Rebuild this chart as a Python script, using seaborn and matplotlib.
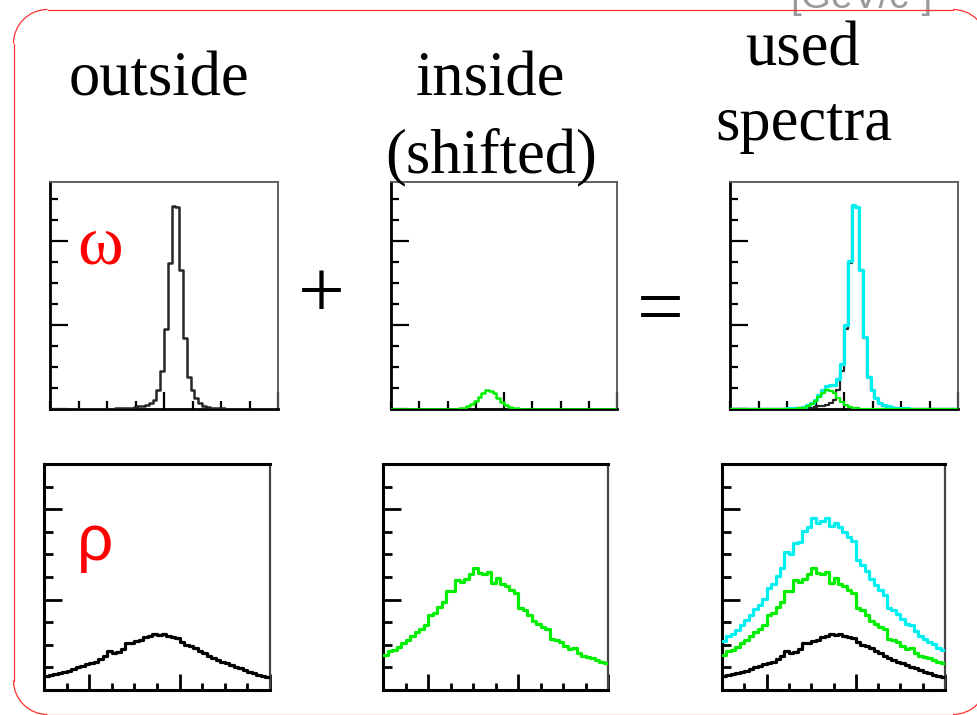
import numpy as np
import pandas as pd
import matplotlib
matplotlib.use("Agg")
import matplotlib.pyplot as plt
import seaborn as sns
from matplotlib.patches import Arc
from matplotlib.lines import Line2D
from matplotlib.transforms import IdentityTransform
from matplotlib.ticker import MultipleLocator, FixedLocator

# ---------------- data ----------------
title_lines = ["outside", "inside", "(shifted)", "used", "spectra"]
meson_labels = ["ω", "ρ"]
operators = ["+", "="]
unit_text = "[GeV/c²]"

# omega spectra: 60 bins over 0..8 (arbitrary mass units)
omega_outside = [0.01, 0.01, 0.01, 0.01, 0.01, 0.01, 0.01, 0.01, 0.01, 0.01,
                 0.01, 0.01, 0.01, 0.01, 0.01, 0.02, 0.02, 0.03, 0.03, 0.04,
                 0.05, 0.06, 0.08, 0.12, 0.15, 0.20, 0.28, 0.42, 0.90, 1.80,
                 3.80, 6.95, 9.65, 9.60, 6.60, 3.40, 1.50, 0.90, 0.50, 0.28,
                 0.16, 0.11, 0.07, 0.05, 0.04, 0.03, 0.02, 0.01, 0.01, 0.01,
                 0.01, 0.01, 0.01, 0.01, 0.01, 0.01, 0.01, 0.01, 0.01, 0.01]
omega_inside = [0.01, 0.01, 0.01, 0.01, 0.01, 0.01, 0.01, 0.01, 0.01, 0.01,
                0.01, 0.01, 0.01, 0.01, 0.01, 0.01, 0.01, 0.01, 0.03, 0.06,
                0.12, 0.22, 0.36, 0.55, 0.76, 0.90, 0.88, 0.74, 0.54, 0.34,
                0.19, 0.10, 0.05, 0.03, 0.01, 0.01, 0.01, 0.01, 0.01, 0.01,
                0.01, 0.01, 0.01, 0.01, 0.01, 0.01, 0.01, 0.01, 0.01, 0.01,
                0.01, 0.01, 0.01, 0.01, 0.01, 0.01, 0.01, 0.01, 0.01, 0.01]

# rho spectra: 50 bins over 0..10
rho_outside = [0.64, 0.68, 0.70, 0.76, 0.80, 0.86, 0.94, 1.00, 1.08, 1.16,
               1.20, 1.26, 1.36, 1.52, 1.74, 1.62, 1.66, 1.80, 2.10, 2.06,
               2.18, 2.22, 2.36, 2.40, 2.50, 2.42, 2.50, 2.38, 2.34, 2.28,
               2.12, 2.00, 1.96, 1.86, 1.74, 1.64, 1.52, 1.40, 1.34, 1.24,
               1.18, 1.10, 1.02, 0.96, 0.88, 0.80, 0.74, 0.68, 0.62, 0.58]
rho_inside = [1.55, 1.72, 1.78, 1.90, 2.08, 2.22, 2.40, 2.58, 2.70, 2.86,
              3.30, 3.42, 3.68, 3.90, 4.36, 4.40, 4.86, 4.76, 4.92, 5.14,
              5.42, 5.16, 5.14, 5.22, 4.74, 4.96, 4.70, 4.60, 4.44, 4.30,
              3.62, 3.52, 3.30, 3.04, 2.90, 2.80, 2.70, 2.24, 2.20, 2.12,
              1.94, 1.80, 1.86, 1.64, 1.50, 1.46, 1.40, 1.34, 1.26, 1.18]

# ---------------- style ----------------
sns.set_theme(style="ticks")
plt.rcParams["font.family"] = ["Liberation Serif", "DejaVu Serif"]

W, H = 977, 715
fig = plt.figure(figsize=(W / 100, H / 100), dpi=100)
fig.patch.set_facecolor("white")

BLACK = "#262626"
GREEN = "#00ee00"
CYAN = "#00f0f0"


def box(x0, y0, x1, y1):
    return [x0 / W, 1 - y1 / H, (x1 - x0) / W, (y1 - y0) / H]


def draw(ax, vals, xmax, color, lw, z=3):
    n = len(vals)
    width = xmax / n
    df = pd.DataFrame({"mass": (np.arange(n) + 0.5) * width,
                       "counts": np.asarray(vals, dtype=float)})
    sns.histplot(data=df, x="mass", weights="counts", bins=n,
                 binrange=(0, xmax), element="step", fill=False,
                 color=color, linewidth=lw, zorder=z, ax=ax)


def style(ax, xmax, ymax, xmajor, ymajor, top_row):
    ax.set_xlim(0, xmax)
    ax.set_ylim(0, ymax)
    ax.set_xlabel("")
    ax.set_ylabel("")
    ax.xaxis.set_major_locator(FixedLocator(xmajor))
    ax.xaxis.set_minor_locator(MultipleLocator(1))
    ax.yaxis.set_major_locator(FixedLocator(ymajor))
    ax.yaxis.set_minor_locator(MultipleLocator(1))
    ax.tick_params(which="both", direction="in", labelbottom=False,
                   labelleft=False, top=False, right=False, color="black")
    ax.set_facecolor("white")
    if top_row:
        ax.tick_params(which="both", width=1.6)
        ax.tick_params(axis="y", which="major", length=13)
        ax.tick_params(axis="y", which="minor", length=5.8)
        ax.tick_params(axis="x", which="major", length=12)
        ax.tick_params(axis="x", which="minor", length=5.5)
        for s in ["left", "bottom"]:
            ax.spines[s].set_color("black")
            ax.spines[s].set_linewidth(2.0)
        for s in ["top", "right"]:
            ax.spines[s].set_color("#555555")
            ax.spines[s].set_linewidth(1.3)
    else:
        ax.tick_params(which="both", width=2.0)
        ax.tick_params(axis="y", which="major", length=13)
        ax.tick_params(axis="y", which="minor", length=6.3)
        ax.tick_params(axis="x", which="major", length=11.5)
        ax.tick_params(axis="x", which="minor", length=5)
        for s in ["left", "bottom", "top"]:
            ax.spines[s].set_color("black")
            ax.spines[s].set_linewidth(2.2)
        ax.spines["right"].set_color("#444444")
        ax.spines["right"].set_linewidth(1.6)


omega_sum = list(np.asarray(omega_outside) + np.asarray(omega_inside))
rho_sum = list(np.asarray(rho_outside) + np.asarray(rho_inside))

top_boxes = [box(50, 182, 278, 409), box(391, 182, 617, 409), box(730, 182, 958, 409)]
bot_boxes = [box(44, 464, 270, 690), box(383, 464, 608, 690), box(722, 464, 945, 690)]

# top row (omega)
ax1 = fig.add_axes(top_boxes[0])
draw(ax1, omega_outside, 8, BLACK, 1.8)
style(ax1, 8, 10.8, [4, 8], [0, 4, 8], True)

ax2 = fig.add_axes(top_boxes[1])
draw(ax2, omega_inside, 8, GREEN, 1.8)
style(ax2, 8, 10.8, [4, 8], [0, 4, 8], True)

ax3 = fig.add_axes(top_boxes[2])
draw(ax3, omega_outside, 8, BLACK, 1.6)
draw(ax3, omega_sum, 8, CYAN, 2.3)
draw(ax3, omega_inside, 8, GREEN, 1.6)
style(ax3, 8, 10.8, [4, 8], [0, 4, 8], True)

# bottom row (rho)
ax4 = fig.add_axes(bot_boxes[0])
draw(ax4, rho_outside, 10, "black", 2.3)
style(ax4, 10, 10, [2, 6, 10], [0, 4, 8], False)

ax5 = fig.add_axes(bot_boxes[1])
draw(ax5, rho_inside, 10, GREEN, 2.3)
style(ax5, 10, 10, [2, 6, 10], [0, 4, 8], False)

ax6 = fig.add_axes(bot_boxes[2])
draw(ax6, rho_outside, 10, "black", 2.3)
draw(ax6, rho_inside, 10, GREEN, 2.3)
draw(ax6, rho_sum, 10, CYAN, 2.3)
style(ax6, 10, 10, [2, 6, 10], [0, 4, 8], False)

# ---------------- texts ----------------
def fx(px):
    return px / W


def fy(py):
    return 1 - py / H


title_pos = [(159, 95), (490, 95), (491, 172), (802, 66), (804, 140)]
for txt, (px, py) in zip(title_lines, title_pos):
    fig.text(fx(px), fy(py), txt, ha="center", va="baseline", fontsize=45,
             color="black", family=["Liberation Serif", "DejaVu Serif"])

fig.text(fx(100), fy(263), meson_labels[0], ha="center", va="baseline",
         fontsize=50, color="red", family=["Liberation Serif", "DejaVu Serif"])
fig.text(fx(95), fy(560), meson_labels[1], ha="center", va="baseline",
         fontsize=46, color="red", family=["Liberation Sans", "DejaVu Sans"])

fig.text(fx(321), fy(297), operators[0], ha="center", va="center",
         fontsize=60, color="black", family=["Liberation Serif", "DejaVu Serif"])
fig.text(fx(660), fy(314), operators[1], ha="center", va="center",
         fontsize=60, color="black", family=["Liberation Serif", "DejaVu Serif"])

fig.text(fx(790), fy(8), unit_text, ha="left", va="baseline", fontsize=28,
         color="#9a9a9a", family=["Liberation Sans", "DejaVu Sans"], zorder=1)

# rounded red frame (pixel coordinates, origin bottom-left)
L, R, B, T, r = 13.5, 987.0, 0.5, H - 9.5, 34.0
red = "#ff3030"
ident = IdentityTransform()
for xs, ys in [([L, L], [B + r, T - r]), ([L + r, R - r], [T, T]),
               ([L + r, R - r], [B, B]), ([R, R], [B + r, T - r])]:
    fig.add_artist(Line2D(xs, ys, color=red, lw=0.9, transform=ident, zorder=5))
for (cx, cy), t1, t2 in [((L + r, T - r), 90, 180), ((R - r, T - r), 0, 90),
                         ((L + r, B + r), 180, 270), ((R - r, B + r), 270, 360)]:
    fig.add_artist(Arc((cx, cy), 2 * r, 2 * r, theta1=t1, theta2=t2,
                       color=red, lw=0.9, transform=ident, zorder=5))

fig.savefig("out.png", dpi=100, facecolor="white")
